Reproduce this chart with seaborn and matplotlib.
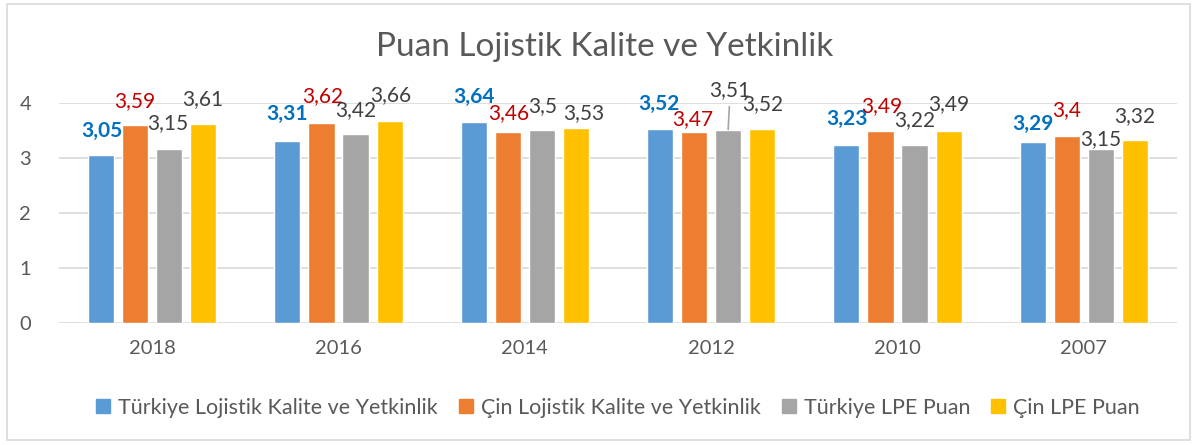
import matplotlib
matplotlib.use("Agg")
import matplotlib.pyplot as plt
import seaborn as sns
import pandas as pd
from matplotlib.patches import Rectangle
from matplotlib.lines import Line2D

years = ["2018", "2016", "2014", "2012", "2010", "2007"]
series = ["Türkiye Lojistik Kalite ve Yetkinlik", "Çin Lojistik Kalite ve Yetkinlik",
          "Türkiye LPE Puan", "Çin LPE Puan"]
tr_lkv = [3.05, 3.31, 3.64, 3.52, 3.23, 3.29]
cn_lkv = [3.59, 3.62, 3.46, 3.47, 3.49, 3.40]
tr_lpe = [3.15, 3.42, 3.50, 3.51, 3.22, 3.15]
cn_lpe = [3.61, 3.66, 3.53, 3.52, 3.49, 3.32]
title = "Puan Lojistik Kalite ve Yetkinlik"

colors = ["#5B9BD5", "#ED7D31", "#A5A5A5", "#FFC000"]
label_colors = ["#0070C0", "#C00000", "#404040", "#404040"]
label_weights = ["bold", "normal", "normal", "normal"]
# label offsets in pixels (dx, dy of label centre above bar top), per series then per year
label_offsets = [
    [(1, 24), (0, 27), (0, 25), (-1, 25), (1, 26), (0, 18)],
    [(0, 24), (1, 27), (1, 19), (-1, 13), (1, 25), (0, 25)],
    [(-1, 26), (0, 24), (1, 24), (2, 39), (0, 25), (0, 10)],
    [(0, 25), (1, 26), (8, 15), (1, 25), (0, 27), (0, 24)],
]

rows = []
for s, vals in zip(series, [tr_lkv, cn_lkv, tr_lpe, cn_lpe]):
    for y, v in zip(years, vals):
        rows.append({"Yıl": y, "Seri": s, "Puan": v})
df = pd.DataFrame(rows)

sns.set_theme(style="white")
plt.rcParams["font.family"] = ["Lato", "DejaVu Sans"]

W, H = 1198, 445
fig = plt.figure(figsize=(W / 100, H / 100), dpi=100)
ax = fig.add_axes([59 / W, 1 - 323 / H, 1118 / W, 220.5 / H])

sns.barplot(data=df, x="Yıl", y="Puan", hue="Seri", order=years, hue_order=series,
            palette=colors, width=0.73, gap=0.235, ax=ax, legend=False,
            errorbar=None, saturation=1)

ax.set_xlim(-0.5, 5.5)
ax.set_ylim(0, 4)
ax.set_yticks([0, 1, 2, 3, 4])
ax.yaxis.grid(True, color="#D9D9D9", linewidth=1.2)
ax.set_axisbelow(True)
for sp in ax.spines.values():
    sp.set_visible(False)
ax.set_xlabel("")
ax.set_ylabel("")
ax.tick_params(axis="both", length=0, labelsize=14.5, labelcolor="#595959")
ax.tick_params(axis="x", pad=12)
ax.tick_params(axis="y", pad=20)

for si, cont in enumerate(ax.containers):
    for yi, bar in enumerate(cont):
        v = bar.get_height()
        xc = bar.get_x() + bar.get_width() / 2
        dx, dy = label_offsets[si][yi]
        txt = f"{v:.2f}".rstrip("0").rstrip(".").replace(".", ",")
        kw = {}
        if dy > 35:
            kw["arrowprops"] = dict(arrowstyle="-", color="#A5A5A5", lw=1.2,
                                    shrinkA=2, shrinkB=0)
        ax.annotate(txt, xy=(xc, v), xytext=(dx, dy), textcoords="offset pixels",
                    ha="center", va="center", fontsize=15, color=label_colors[si],
                    fontweight=label_weights[si], annotation_clip=False, **kw)

fig.text(605 / W, 1 - 47 / H, title, ha="center", va="center", fontsize=24,
         color="#595959")

handles = [Line2D([], [], marker="s", linestyle="", markersize=10,
                  markerfacecolor=c, markeredgecolor=c) for c in colors]
fig.legend(handles, series, loc="center", bbox_to_anchor=(617 / W, 1 - 408 / H),
           ncol=4, frameon=False, fontsize=15.5, labelcolor="#595959",
           handletextpad=0.3, columnspacing=0.9, handlelength=0.8)

fig.add_artist(Rectangle((7 / W, 5 / H), 1183 / W, 436 / H, transform=fig.transFigure,
                         fill=False, edgecolor="#D9D9D9", linewidth=1.2))

fig.savefig("out.png", dpi=100, facecolor="white")
